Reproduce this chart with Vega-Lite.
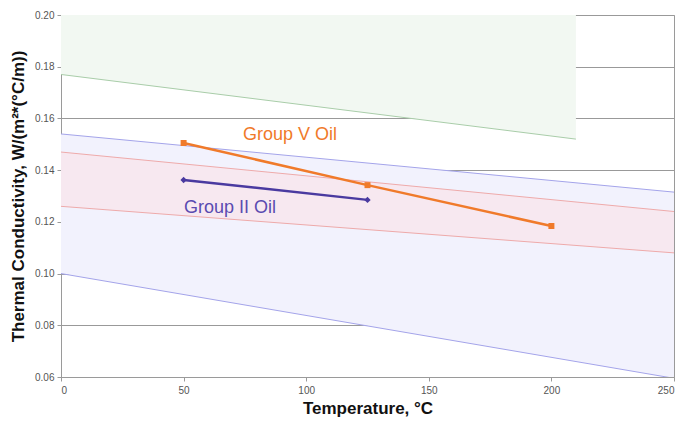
{
  "$schema": "https://vega.github.io/schema/vega-lite/v6.json",
  "width": 613,
  "height": 362,
  "autosize": "none",
  "padding": {"left": 61, "top": 15, "right": 22, "bottom": 46},
  "background": "white",
  "config": {
    "font": "Liberation Sans",
    "view": {"stroke": "#9a9a9a", "strokeWidth": 1}
  },
  "datasets": {
    "bands": [
      {"band": "green", "t": 0, "lo": 0.177, "hi": 0.2},
      {"band": "green", "t": 210, "lo": 0.152, "hi": 0.2},
      {"band": "blue", "t": 0, "lo": 0.1, "hi": 0.154},
      {"band": "blue", "t": 250, "lo": 0.0595, "hi": 0.1315},
      {"band": "pink", "t": 0, "lo": 0.126, "hi": 0.147},
      {"band": "pink", "t": 250, "lo": 0.108, "hi": 0.124}
    ],
    "edges": [
      {"edge": "green_lo", "t": 0, "v": 0.177},
      {"edge": "green_lo", "t": 210, "v": 0.152},
      {"edge": "blue_hi", "t": 0, "v": 0.154},
      {"edge": "blue_hi", "t": 250, "v": 0.1315},
      {"edge": "blue_lo", "t": 0, "v": 0.1},
      {"edge": "blue_lo", "t": 250, "v": 0.0595},
      {"edge": "pink_hi", "t": 0, "v": 0.147},
      {"edge": "pink_hi", "t": 250, "v": 0.124},
      {"edge": "pink_lo", "t": 0, "v": 0.126},
      {"edge": "pink_lo", "t": 250, "v": 0.108}
    ],
    "oils": [
      {"oil": "Group V Oil", "t": 50, "v": 0.1505},
      {"oil": "Group V Oil", "t": 125, "v": 0.1342},
      {"oil": "Group V Oil", "t": 200, "v": 0.1184},
      {"oil": "Group II Oil", "t": 50, "v": 0.1362},
      {"oil": "Group II Oil", "t": 125, "v": 0.1285}
    ],
    "labels": [
      {"oil": "Group V Oil", "t": 93.4, "v": 0.1536},
      {"oil": "Group II Oil", "t": 68.9, "v": 0.1254}
    ]
  },
  "encoding": {
    "x": {
      "field": "t", "type": "quantitative",
      "scale": {"domain": [0, 250], "nice": false},
      "axis": {
        "title": "Temperature, °C",
        "values": [0, 50, 100, 150, 200, 250],
        "grid": false,
        "domainColor": "#9a9a9a",
        "tickColor": "#9a9a9a",
        "tickSize": 4,
        "labelColor": "#555555",
        "labelFontSize": 10,
        "labelPadding": 4,
        "titleFontSize": 17,
        "titleFontWeight": "bold",
        "titleColor": "#111111",
        "titlePadding": 5
      }
    },
    "y": {
      "type": "quantitative",
      "scale": {"domain": [0.06, 0.2], "nice": false, "zero": false},
      "axis": {
        "title": "Thermal Conductivity, W/(m²*(°C/m))",
        "values": [0.06, 0.08, 0.1, 0.12, 0.14, 0.16, 0.18, 0.2],
        "format": ".2f",
        "grid": true,
        "gridColor": "#999999",
        "gridWidth": 1.2,
        "domainColor": "#9a9a9a",
        "tickColor": "#9a9a9a",
        "tickSize": 4,
        "labelColor": "#555555",
        "labelFontSize": 10,
        "labelPadding": 3,
        "titleFontSize": 17,
        "titleFontWeight": "bold",
        "titleColor": "#111111",
        "titlePadding": 7
      }
    }
  },
  "layer": [
    {
      "data": {"name": "bands"},
      "transform": [{"filter": "datum.band === 'green'"}],
      "mark": {"type": "area", "color": "#f2f8f2", "clip": true},
      "encoding": {"y": {"field": "lo"}, "y2": {"field": "hi"}}
    },
    {
      "data": {"name": "bands"},
      "transform": [{"filter": "datum.band === 'blue'"}],
      "mark": {"type": "area", "color": "#f2f2fd", "clip": true},
      "encoding": {"y": {"field": "lo"}, "y2": {"field": "hi"}}
    },
    {
      "data": {"name": "bands"},
      "transform": [{"filter": "datum.band === 'pink'"}],
      "mark": {"type": "area", "color": "#f7e8f0", "clip": true},
      "encoding": {"y": {"field": "lo"}, "y2": {"field": "hi"}}
    },
    {
      "data": {"name": "edges"},
      "transform": [{"filter": "datum.edge === 'green_lo'"}],
      "mark": {"type": "line", "strokeWidth": 1, "color": "#a9cda9", "clip": true},
      "encoding": {"y": {"field": "v"}, "detail": {"field": "edge"}}
    },
    {
      "data": {"name": "edges"},
      "transform": [{"filter": "datum.edge === 'blue_hi' || datum.edge === 'blue_lo'"}],
      "mark": {"type": "line", "strokeWidth": 1, "color": "#a4a4ea", "clip": true},
      "encoding": {"y": {"field": "v"}, "detail": {"field": "edge"}}
    },
    {
      "data": {"name": "edges"},
      "transform": [{"filter": "datum.edge === 'pink_hi' || datum.edge === 'pink_lo'"}],
      "mark": {"type": "line", "strokeWidth": 1, "color": "#eeaaaa", "clip": true},
      "encoding": {"y": {"field": "v"}, "detail": {"field": "edge"}}
    },
    {
      "data": {"name": "oils"},
      "transform": [{"filter": "datum.oil === 'Group V Oil'"}],
      "mark": {"type": "line", "strokeWidth": 2.5, "color": "#f07a2a"},
      "encoding": {"y": {"field": "v"}}
    },
    {
      "data": {"name": "oils"},
      "transform": [{"filter": "datum.oil === 'Group II Oil'"}],
      "mark": {"type": "line", "strokeWidth": 2.5, "color": "#4a3aa0"},
      "encoding": {"y": {"field": "v"}}
    },
    {
      "data": {"name": "oils"},
      "transform": [{"filter": "datum.oil === 'Group V Oil'"}],
      "mark": {"type": "point", "shape": "square", "filled": true, "size": 36, "color": "#f07a2a", "opacity": 1},
      "encoding": {"y": {"field": "v"}}
    },
    {
      "data": {"name": "oils"},
      "transform": [{"filter": "datum.oil === 'Group II Oil'"}],
      "mark": {"type": "point", "shape": "diamond", "filled": true, "size": 40, "color": "#4a3aa0", "opacity": 1},
      "encoding": {"y": {"field": "v"}}
    },
    {
      "data": {"name": "labels"},
      "transform": [{"filter": "datum.oil === 'Group V Oil'"}],
      "mark": {"type": "text", "fontSize": 18, "align": "center", "baseline": "middle", "color": "#f07a2a"},
      "encoding": {"y": {"field": "v"}, "text": {"field": "oil"}}
    },
    {
      "data": {"name": "labels"},
      "transform": [{"filter": "datum.oil === 'Group II Oil'"}],
      "mark": {"type": "text", "fontSize": 18, "align": "center", "baseline": "middle", "color": "#5a4bb0"},
      "encoding": {"y": {"field": "v"}, "text": {"field": "oil"}}
    }
  ]
}
